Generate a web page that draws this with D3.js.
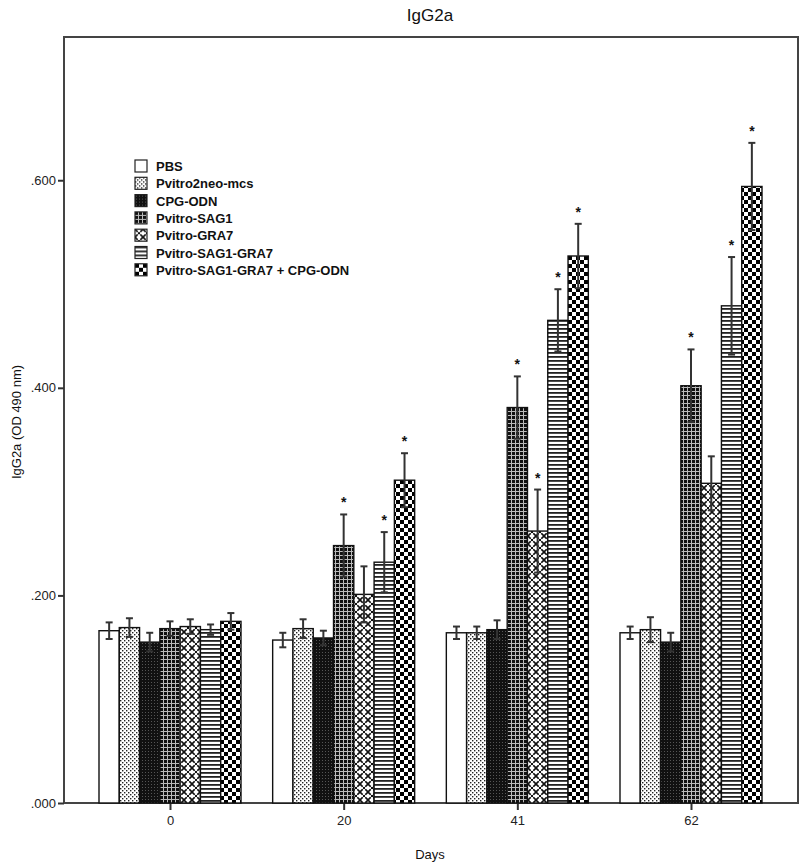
<!DOCTYPE html>
<html>
<head>
<meta charset="utf-8">
<script src="https://cdn.jsdelivr.net/npm/d3@7/dist/d3.min.js"></script>
<style>
  html, body { margin: 0; padding: 0; background: #fff; }
  svg { display: block; font-family: "Liberation Sans", Arial, sans-serif; }
</style>
</head>
<body>
<svg id="chart" width="810" height="864"></svg>
<script>
// ---- data ----
const days = ["0", "20", "41", "62"];
const groups = ["PBS", "Pvitro2neo-mcs", "CPG-ODN", "Pvitro-SAG1", "Pvitro-GRA7", "Pvitro-SAG1-GRA7", "Pvitro-SAG1-GRA7 + CPG-ODN"];
// means per group, per day (0, 20, 41, 62)
const meanPBS      = [0.166, 0.157, 0.164, 0.164];
const meanPvitro   = [0.169, 0.168, 0.164, 0.167];
const meanCPG      = [0.155, 0.159, 0.167, 0.155];
const meanSAG1     = [0.168, 0.248, 0.381, 0.402];
const meanGRA7     = [0.170, 0.201, 0.262, 0.308];
const meanSG       = [0.167, 0.232, 0.465, 0.479];
const meanCombo    = [0.175, 0.311, 0.527, 0.594];
// standard errors
const errPBS       = [0.008, 0.007, 0.006, 0.006];
const errPvitro    = [0.009, 0.009, 0.006, 0.012];
const errCPG       = [0.009, 0.007, 0.009, 0.009];
const errSAG1      = [0.007, 0.030, 0.030, 0.035];
const errGRA7      = [0.007, 0.027, 0.040, 0.026];
const errSG        = [0.005, 0.029, 0.030, 0.047];
const errCombo     = [0.008, 0.026, 0.031, 0.042];
// significance marks (1 = asterisk)
const sigPBS       = [0, 0, 0, 0];
const sigPvitro    = [0, 0, 0, 0];
const sigCPG       = [0, 0, 0, 0];
const sigSAG1      = [0, 1, 1, 1];
const sigGRA7      = [0, 0, 1, 0];
const sigSG        = [0, 1, 1, 1];
const sigCombo     = [0, 1, 1, 1];
const yTicks = [0, 0.2, 0.4, 0.6];
const yTickLabels = [".000", ".200", ".400", ".600"];

const means = [meanPBS, meanPvitro, meanCPG, meanSAG1, meanGRA7, meanSG, meanCombo];
const errs  = [errPBS, errPvitro, errCPG, errSAG1, errGRA7, errSG, errCombo];
const sigs  = [sigPBS, sigPvitro, sigCPG, sigSAG1, sigGRA7, sigSG, sigCombo];

const rows = [];
days.forEach((d, di) => groups.forEach((g, gi) => {
  rows.push({ day: d, group: g, gi, v: means[gi][di], e: errs[gi][di], s: sigs[gi][di] });
}));

// ---- layout ----
const svg = d3.select("#chart");
const frame = { left: 64, right: 798, top: 37, bottom: 803 };

const y = d3.scaleLinear().domain([0, 0.738]).range([frame.bottom, frame.top]);
const x0 = d3.scalePoint().domain(days).range([170, 691]);
const x1 = d3.scaleBand().domain(groups).range([-71, 71]).padding(0);

// ---- patterns ----
const defs = svg.append("defs");
function pat(id, size, draw) {
  const p = defs.append("pattern").attr("id", id).attr("patternUnits", "userSpaceOnUse")
    .attr("width", size).attr("height", size);
  draw(p);
}
pat("p1", 4, p => {
  p.append("rect").attr("width", 4).attr("height", 4).attr("fill", "#fff");
  p.append("rect").attr("x", 0).attr("y", 0).attr("width", 1.4).attr("height", 1.4).attr("fill", "#222");
  p.append("rect").attr("x", 2).attr("y", 2).attr("width", 1.4).attr("height", 1.4).attr("fill", "#222");
});
pat("p2", 3, p => {
  p.append("rect").attr("width", 3).attr("height", 3).attr("fill", "#111");
  p.append("rect").attr("x", 1).attr("y", 1).attr("width", 0.9).attr("height", 0.9).attr("fill", "#666");
});
pat("p3", 4, p => {
  p.append("rect").attr("width", 4).attr("height", 4).attr("fill", "#111");
  p.append("rect").attr("x", 0).attr("y", 3).attr("width", 4).attr("height", 1).attr("fill", "#bbb");
  p.append("rect").attr("x", 3).attr("y", 0).attr("width", 1).attr("height", 4).attr("fill", "#bbb");
});
pat("p4", 8, p => {
  p.append("rect").attr("width", 8).attr("height", 8).attr("fill", "#fff");
  p.append("path").attr("d", "M0,0 L8,8 M8,0 L0,8").attr("stroke", "#111").attr("stroke-width", 1.6);
  p.append("path").attr("d", "M4,1.5 L6.5,4 L4,6.5 L1.5,4 Z").attr("fill", "#fff");
  p.append("rect").attr("x", 3).attr("y", 3).attr("width", 2).attr("height", 2).attr("fill", "#111");
});
pat("p5", 4, p => {
  p.append("rect").attr("width", 4).attr("height", 4).attr("fill", "#fff");
  p.append("rect").attr("x", 0).attr("y", 0).attr("width", 4).attr("height", 1.8).attr("fill", "#222");
});
pat("p6", 8, p => {
  p.append("rect").attr("width", 8).attr("height", 8).attr("fill", "#fff");
  p.append("rect").attr("x", 0).attr("y", 0).attr("width", 4).attr("height", 4).attr("fill", "#000");
  p.append("rect").attr("x", 4).attr("y", 4).attr("width", 4).attr("height", 4).attr("fill", "#000");
});
const fills = ["#fff", "url(#p1)", "url(#p2)", "url(#p3)", "url(#p4)", "url(#p5)", "url(#p6)"];

// ---- frame ----
svg.append("rect").attr("x", frame.left).attr("y", frame.top)
  .attr("width", frame.right - frame.left).attr("height", frame.bottom - frame.top)
  .attr("fill", "none").attr("stroke", "#444").attr("stroke-width", 2);

// ---- y axis ----
const yAxis = d3.axisLeft(y).tickValues(yTicks).tickFormat((d, i) => yTickLabels[i]).tickSize(6).tickPadding(2);
const ya = svg.append("g").attr("transform", `translate(${frame.left},0)`).call(yAxis);
ya.select(".domain").remove();
ya.selectAll(".tick line").attr("stroke", "#333").attr("stroke-width", 2);
ya.selectAll(".tick text").attr("font-size", 13).attr("fill", "#222").attr("font-family", "Liberation Sans, Arial, sans-serif");

// ---- x axis ----
const xAxis = d3.axisBottom(x0).tickSize(7).tickPadding(6);
const xa = svg.append("g").attr("transform", `translate(0,${frame.bottom})`).call(xAxis);
xa.select(".domain").remove();
xa.selectAll(".tick line").attr("stroke", "#333").attr("stroke-width", 2);
xa.selectAll(".tick text").attr("font-size", 13).attr("fill", "#222").attr("font-family", "Liberation Sans, Arial, sans-serif");

// ---- bars ----
const bx = d => x0(d.day) + x1(d.group);
svg.append("g").selectAll("rect").data(rows).join("rect")
  .attr("x", bx).attr("width", x1.bandwidth())
  .attr("y", d => y(d.v)).attr("height", d => y(0) - y(d.v))
  .attr("fill", d => fills[d.gi]).attr("stroke", "#111").attr("stroke-width", 1.4);

// ---- error bars ----
const eg = svg.append("g").attr("stroke", "#333").attr("stroke-width", 2);
rows.forEach(d => {
  const cx = bx(d) + x1.bandwidth() / 2;
  eg.append("line").attr("x1", cx).attr("x2", cx).attr("y1", y(d.v + d.e)).attr("y2", y(d.v - d.e));
  eg.append("line").attr("x1", cx - 3.5).attr("x2", cx + 3.5).attr("y1", y(d.v + d.e)).attr("y2", y(d.v + d.e));
  eg.append("line").attr("x1", cx - 3.5).attr("x2", cx + 3.5).attr("y1", y(d.v - d.e)).attr("y2", y(d.v - d.e));
});

// ---- asterisks ----
svg.append("g").selectAll("text").data(rows.filter(d => d.s)).join("text")
  .attr("x", d => bx(d) + x1.bandwidth() / 2)
  .attr("y", d => y(d.v + d.e) - 7)
  .attr("text-anchor", "middle").attr("font-size", 14).attr("font-weight", "bold").attr("fill", "#111")
  .text("*");

// ---- titles ----
svg.append("text").attr("x", 430).attr("y", 21).attr("text-anchor", "middle")
  .attr("font-size", 17).attr("fill", "#111").text("IgG2a");
svg.append("text").attr("x", 430).attr("y", 859).attr("text-anchor", "middle")
  .attr("font-size", 13).attr("fill", "#111").text("Days");
svg.append("text").attr("transform", `translate(21,${(frame.top + frame.bottom) / 2 + 2}) rotate(-90)`)
  .attr("text-anchor", "middle").attr("font-size", 13).attr("fill", "#111").text("IgG2a (OD 490 nm)");

// ---- legend ----
const lg = svg.append("g").attr("transform", "translate(135,160)");
groups.forEach((g, i) => {
  const row = lg.append("g").attr("transform", `translate(0,${i * 17.3})`);
  row.append("rect").attr("x", 0).attr("y", 0).attr("width", 12).attr("height", 12)
    .attr("fill", fills[i]).attr("stroke", "#222").attr("stroke-width", 1.2);
  row.append("text").attr("x", 21).attr("y", 11).attr("font-size", 13).attr("fill", "#111")
    .attr("font-weight", "bold").text(g);
});
</script>
</body>
</html>
